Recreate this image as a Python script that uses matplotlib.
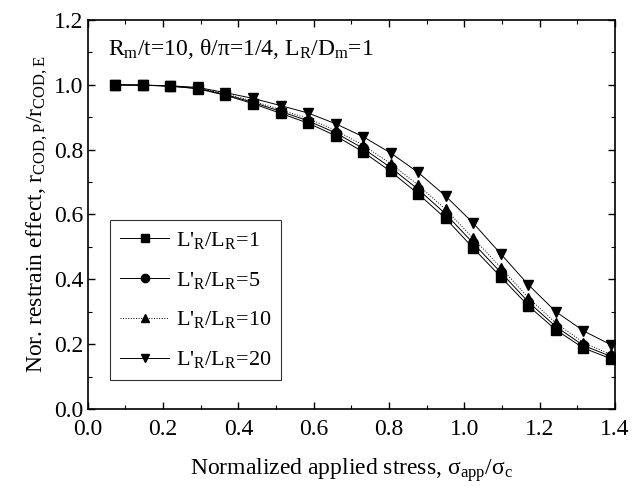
import numpy as np
import matplotlib
matplotlib.use("Agg")
import matplotlib.pyplot as plt
from matplotlib.ticker import MultipleLocator

plt.rcParams['font.family'] = ['Liberation Serif', 'DejaVu Serif']
plt.rcParams['mathtext.fontset'] = 'custom'
plt.rcParams['mathtext.rm'] = 'Liberation Serif'
plt.rcParams['mathtext.it'] = 'Liberation Serif:italic'

# normalized applied stress (x) and restrain effect for each L'_R/L_R
stress = [0.073, 0.146, 0.219, 0.292, 0.365, 0.439, 0.512, 0.585, 0.658, 0.731,
          0.804, 0.877, 0.950, 1.023, 1.097, 1.170, 1.243, 1.316, 1.389]
r_1 = [1.0, 0.999, 0.996, 0.988, 0.968, 0.942, 0.912, 0.882, 0.843, 0.793,
       0.733, 0.664, 0.588, 0.497, 0.407, 0.318, 0.244, 0.188, 0.155]
r_5 = [1.0, 0.999, 0.996, 0.989, 0.970, 0.946, 0.918, 0.889, 0.852, 0.804,
       0.745, 0.678, 0.602, 0.512, 0.421, 0.330, 0.254, 0.196, 0.162]
r_10 = [1.0, 0.999, 0.997, 0.990, 0.972, 0.950, 0.923, 0.896, 0.860, 0.814,
        0.757, 0.691, 0.616, 0.527, 0.436, 0.343, 0.265, 0.205, 0.168]
r_20 = [1.0, 0.999, 0.997, 0.992, 0.976, 0.958, 0.936, 0.913, 0.880, 0.840,
        0.790, 0.730, 0.657, 0.574, 0.478, 0.383, 0.300, 0.241, 0.198]
ratios = ['1', '5', '10', '20']

fig = plt.figure(figsize=(6.36, 4.88), dpi=100)
ax = fig.add_axes([0.138, 0.162, 0.829, 0.797])

series = [(r_1, 's', '-'), (r_5, 'o', '-'), (r_10, '^', ':'), (r_20, 'v', '-')]
for (vals, mk, ls), lab in zip(series, ratios):
    ax.plot(stress, vals, color='black', marker=mk, linestyle=ls, lw=0.7, ms=7,
            label=r"L$'_{\rm R}$/L$_{\rm R}$=" + lab)

ax.set_xlim(0.0, 1.4)
ax.set_ylim(0.0, 1.2)
ax.xaxis.set_major_locator(MultipleLocator(0.2))
ax.xaxis.set_minor_locator(MultipleLocator(0.1))
ax.yaxis.set_major_locator(MultipleLocator(0.2))
ax.yaxis.set_minor_locator(MultipleLocator(0.1))
ax.xaxis.set_major_formatter(lambda v, p: f"{v:.1f}")
ax.yaxis.set_major_formatter(lambda v, p: f"{v:.1f}")
ax.tick_params(which='both', direction='in', top=True, right=True, labelsize=17)
ax.tick_params(which='major', length=5, width=1)
ax.tick_params(which='minor', length=3, width=0.8)
ax.tick_params(axis='x', pad=7)
ax.tick_params(axis='y', pad=3)
for s in ax.spines.values():
    s.set_linewidth(1.2)

ax.set_xlabel(r"Normalized applied stress, σ$_{\rm app}$/σ$_{\rm c}$", fontsize=17, labelpad=12)
ax.set_ylabel(r"Nor. restrain effect, r$_{\rm COD,P}$/r$_{\rm COD,E}$", fontsize=17, labelpad=3)

ax.text(0.038, 0.925, r"R$_{\rm m}$/t=10, θ/π=1/4, L$_{\rm R}$/D$_{\rm m}$=1",
        transform=ax.transAxes, fontsize=17, va='center', ha='left')

leg = ax.legend(loc='lower left', bbox_to_anchor=(0.022, 0.045), fontsize=16,
                frameon=True, fancybox=False, edgecolor='black', handlelength=2.2,
                handletextpad=0.3, labelspacing=0.85, borderpad=0.45, markerscale=0.85)
leg.get_frame().set_linewidth(0.8)

fig.savefig("out.png", dpi=100)
